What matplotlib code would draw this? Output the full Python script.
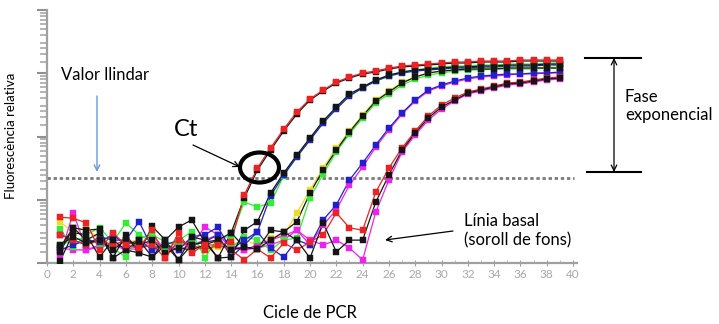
import matplotlib
matplotlib.use("Agg")
import matplotlib.pyplot as plt
from matplotlib.patches import Ellipse
from matplotlib.ticker import LogLocator, NullFormatter, MultipleLocator

# ---------------- data (relative fluorescence, log axis) ----------------
cycles = list(range(1, 40))

a_red = [5.3, 5.1, 4.3, 1.61, 3.0, 1.93, 1.73, 3.3, 1.2, 3.0, 1.44, 1.93, 1.93, 2.15, 11.9, 31.8, 66, 131, 244, 392,
         543, 727, 872, 1009, 1085, 1210, 1302, 1350, 1400, 1452, 1506, 1506, 1562, 1562, 1562, 1620, 1620, 1620, 1620]
a_black = [1.79, 3.6, 3.3, 3.45, 1.2, 2.8, 1.44, 3.8, 2.3, 3.7, 4.8, 2.15, 2.3, 3.0, 10.7, 29.5, 61, 122, 227, 378,
           524, 701, 841, 973, 1046, 1167, 1255, 1302, 1350, 1400, 1452, 1452, 1506, 1506, 1506, 1562, 1562, 1562, 1562]
b_black = [1.08, 3.0, 2.8, 1.24, 2.3, 1.61, 2.3, 1.24, 1.93, 1.12, 2.6, 2.3, 1.2, 1.24, 3.3, 4.5, 12.8, 26.5, 51, 95,
           176, 293, 470, 606, 782, 938, 1046, 1125, 1167, 1210, 1255, 1255, 1302, 1302, 1350, 1350, 1350, 1400, 1400]
b_blue = [2.8, 2.3, 1.93, 2.6, 2.3, 2.3, 4.5, 1.73, 1.93, 1.61, 2.6, 2.8, 3.7, 1.61, 2.3, 3.1, 11.5, 24.6, 47.5, 88,
          163, 272, 437, 584, 754, 904, 1009, 1085, 1125, 1167, 1210, 1210, 1255, 1255, 1302, 1302, 1302, 1350, 1350]
b_green = [3.45, 1.79, 2.8, 3.6, 2.15, 4.3, 2.8, 2.15, 1.61, 2.3, 3.1, 1.2, 2.5, 2.6, 9.2, 7.7, 8.9, 23.8, 49, 92,
           169, 282, 453, 584, 754, 904, 1046, 1125, 1210, 1255, 1302, 1302, 1350, 1350, 1400, 1400, 1400, 1452, 1452]
c_green = [1.93, 2.3, 2.5, 1.93, 1.73, 1.24, 2.5, 2.8, 2.15, 1.93, 2.3, 1.61, 1.93, 1.73, 2.6, 2.3, 1.61, 2.3, 2.5, 10.7,
           25.5, 57, 110, 196, 339, 470, 652, 811, 938, 1009, 1085, 1125, 1125, 1167, 1167, 1167, 1167, 1210, 1210]
c_black = [1.5, 3.6, 2.3, 3.0, 1.2, 1.61, 1.44, 1.24, 2.3, 1.12, 1.93, 2.15, 1.2, 3.0, 1.79, 1.66, 2.3, 3.1, 4.5, 12.8,
           29.5, 61, 118, 211, 364, 505, 701, 872, 1009, 1085, 1125, 1167, 1167, 1167, 1210, 1210, 1210, 1210, 1210]
c_yellow = [4.5, 3.0, 3.6, 2.3, 1.93, 2.15, 2.3, 1.93, 1.73, 2.15, 1.93, 1.61, 1.79, 1.93, 2.3, 1.93, 2.5, 2.7, 6.2, 14.3,
            31.8, 66, 122, 219, 378, 524, 727, 872, 1009, 1085, 1125, 1167, 1167, 1210, 1210, 1210, 1210, 1255, 1255]
d_blue = [1.61, 1.93, 2.3, 2.15, 2.8, 1.93, 2.3, 1.61, 1.93, 2.3, 1.93, 2.15, 2.8, 1.24, 1.93, 3.1, 1.73, 1.24, 2.3, 1.93,
          4.8, 8.3, 20.5, 38, 73.4, 136, 235, 378, 543, 652, 754, 841, 904, 938, 973, 973, 1009, 1009, 1046]
d_magenta = [1.34, 6.2, 1.61, 1.79, 1.93, 1.61, 1.93, 2.8, 1.61, 1.93, 1.93, 3.7, 2.8, 1.93, 1.61, 1.93, 2.3, 2.7, 3.3, 1.93,
             4.0, 6.9, 17.1, 32.9, 68, 127, 227, 364, 524, 628, 727, 811, 872, 904, 938, 973, 973, 1009, 1009]
e_black = [1.93, 2.6, 2.07, 2.3, 1.61, 2.3, 1.93, 2.3, 1.44, 1.73, 1.61, 1.93, 2.3, 1.61, 1.79, 1.66, 3.3, 3.1, 2.3, 1.2,
           4.3, 1.5, 2.3, 2.3, 9.2, 24.6, 61, 114, 196, 293, 378, 487, 543, 606, 676, 701, 754, 811, 841]
e_red = [2.8, 2.3, 1.93, 2.3, 1.93, 2.3, 1.73, 1.93, 1.2, 2.3, 1.93, 1.61, 1.93, 1.61, 1.12, 1.66, 1.2, 2.07, 1.61, 2.15,
         2.8, 6.2, 3.6, 3.3, 13.2, 31.8, 66, 122, 211, 315, 406, 505, 563, 628, 701, 727, 782, 841, 872]
e_magenta = [1.73, 1.61, 1.61, 1.93, 1.93, 1.73, 1.61, 2.3, 1.73, 1.61, 1.93, 2.3, 2.8, 1.73, 1.61, 1.73, 1.93, 2.3, 3.3, 2.3,
             1.93, 2.3, 1.73, 1.12, 6.4, 20.5, 57, 106, 182, 272, 364, 470, 524, 584, 652, 676, 727, 782, 811]

threshold = 22.1
x_ticks = list(range(0, 41, 2))

# ---------------- style ----------------
RED, BLACK, BLUE, GREEN, YELLOW, MAGENTA = "#ee2222", "#151515", "#2020cc", "#33ee33", "#eedd22", "#ee22ee"
series = [
    (c_yellow, YELLOW), (d_magenta, MAGENTA), (e_magenta, MAGENTA),
    (b_green, GREEN), (c_green, GREEN), (b_blue, BLUE), (d_blue, BLUE),
    (e_red, RED), (a_black, BLACK), (b_black, BLACK), (c_black, BLACK), (e_black, BLACK),
    (a_red, RED),
]

plt.rcParams['font.family'] = ['Lato', 'DejaVu Sans']
W, H = 719, 324
fig = plt.figure(figsize=(W / 100, H / 100), dpi=100)
ax = fig.add_axes([47 / W, 1 - 263 / H, (577 - 47) / W, (263 - 10) / H])


def fx(x):
    return x / W


def fy(y):
    return 1 - y / H


for vals, col in series:
    ax.plot(cycles, vals, color=col, lw=0.9, zorder=2)
for vals, col in series:
    ax.plot(cycles, vals, ls='none', marker='s', ms=4.6, mfc=col, mec=col, mew=0.3, zorder=3)

ax.axhline(threshold, xmin=0, xmax=0.995, color="#7a7a7a", lw=2.0, ls=(0, (1.2, 1.0)), zorder=1)

ax.set_yscale('log')
ax.set_ylim(1, 1e4)
ax.set_xlim(0, 40.3)
ax.set_xticks(x_ticks)
ax.set_xticklabels([str(t) for t in x_ticks])
ax.xaxis.set_minor_locator(MultipleLocator(1))
ax.yaxis.set_major_locator(LogLocator(base=10))
ax.yaxis.set_minor_locator(LogLocator(base=10, subs=[1.5, 2, 2.5, 3, 4, 5, 6, 7, 8, 9]))
ax.yaxis.set_major_formatter(NullFormatter())
ax.yaxis.set_minor_formatter(NullFormatter())

for s in ('top', 'right'):
    ax.spines[s].set_visible(False)
for s in ('left', 'bottom'):
    ax.spines[s].set_color("#a0a0a0")
    ax.spines[s].set_linewidth(1.6)
ax.tick_params(axis='x', which='major', direction='inout', length=5, color="#a0a0a0",
               labelcolor="#a8a8a8", labelsize=8.5, pad=2)
ax.tick_params(axis='x', which='minor', direction='in', length=2, color="#b0b0b0")
ax.tick_params(axis='y', which='major', direction='out', length=7, width=1.5, color="#909090")
ax.tick_params(axis='y', which='minor', direction='out', length=5, width=1.2, color="#a8a8a8")
ax.patch.set_alpha(0)

# ---------------- annotations ----------------
FS = 12
fig.text(fx(11), fy(136), "Fluorescència relativa", rotation=90, ha='center', va='center', fontsize=9.5)
fig.text(fx(310), fy(313), "Cicle de PCR", ha='center', va='center', fontsize=FS)
fig.text(fx(61), fy(75), "Valor llindar", ha='left', va='center', fontsize=FS)
ax.annotate("", xy=(fx(97), fy(172)), xytext=(fx(97), fy(96)), xycoords='figure fraction',
            textcoords='figure fraction',
            arrowprops=dict(arrowstyle='->', color="#6a9ad6", lw=1.0, shrinkA=0, shrinkB=0))
fig.text(fx(174), fy(130), "Ct", ha='left', va='center', fontsize=17)
ax.annotate("", xy=(fx(240), fy(167)), xytext=(fx(193), fy(145)), xycoords='figure fraction',
            textcoords='figure fraction',
            arrowprops=dict(arrowstyle='->', color="black", lw=0.9, shrinkA=0, shrinkB=0))
fig.patches.append(Ellipse((fx(259.5), fy(167.5)), 39 / W, 30 / H, transform=fig.transFigure,
                           fill=False, ec='black', lw=3.0, zorder=10))

# exponential phase bracket
fig.add_artist(plt.Line2D([fx(585), fx(641)], [fy(58), fy(58)], transform=fig.transFigure, color='black', lw=1.5))
fig.add_artist(plt.Line2D([fx(587), fx(641)], [fy(172), fy(172)], transform=fig.transFigure, color='black', lw=1.5))
ax.annotate("", xy=(fx(614), fy(58)), xytext=(fx(614), fy(172)), xycoords='figure fraction',
            textcoords='figure fraction',
            arrowprops=dict(arrowstyle='<->', color="black", lw=0.9, shrinkA=0, shrinkB=0))
fig.text(fx(625), fy(106), "Fase\nexponencial", ha='left', va='center', fontsize=FS, linespacing=1.1)

fig.text(fx(464), fy(231), "Línia basal\n(soroll de fons)", ha='left', va='center', fontsize=FS, linespacing=1.22)
ax.annotate("", xy=(fx(385), fy(240)), xytext=(fx(453), fy(231)), xycoords='figure fraction',
            textcoords='figure fraction',
            arrowprops=dict(arrowstyle='->', color="black", lw=0.9, shrinkA=0, shrinkB=0))

fig.savefig("out.png", dpi=100, facecolor='white')
